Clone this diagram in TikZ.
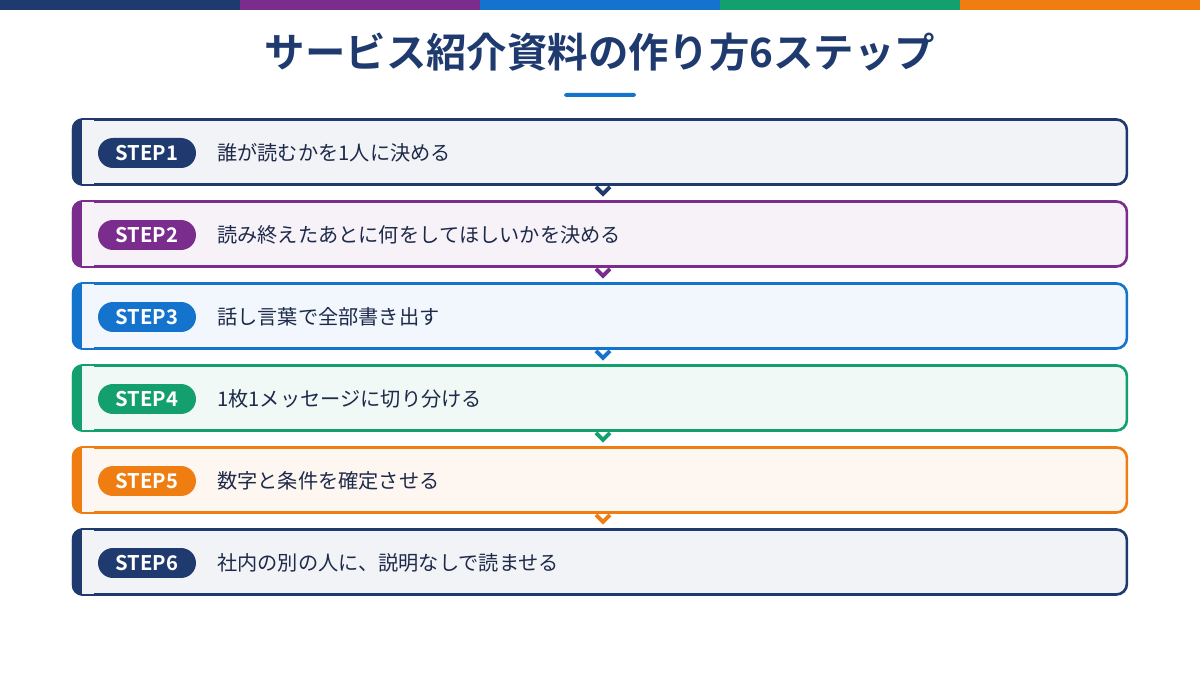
\documentclass[tikz,border=0pt]{standalone}
\usepackage{fontspec}
\setmainfont{Noto Sans CJK JP}
\newfontfamily\jpbold{Noto Sans CJK JP Bold}
\usetikzlibrary{positioning, calc}
\definecolor{cnavy}{HTML}{1E3A6E}
\definecolor{cpurple}{HTML}{7B2D8E}
\definecolor{cblue}{HTML}{1473CC}
\definecolor{cgreen}{HTML}{14A06E}
\definecolor{corange}{HTML}{F07D12}
\definecolor{ctext}{HTML}{1E2A4A}
\tikzset{
    stepbox/.style={
        rectangle, draw=#1, line width=1.5pt, rounded corners=6pt,
        minimum width=21.08cm, minimum height=1.3cm,
        fill=#1!6, inner sep=0pt
    },
    pill/.style={
        rectangle, rounded corners=0.3cm, fill=#1,
        minimum width=1.96cm, minimum height=0.6cm, inner sep=0pt,
        text=white, font=\jpbold\fontsize{11.5}{13}\selectfont
    },
    steptext/.style={
        anchor=west, text=ctext, inner sep=0pt,
        font=\fontsize{11.5}{13}\selectfont
    },
    chevron/.style={draw=#1, line width=2.2pt}
}
\begin{document}
\begin{tikzpicture}[x=0.02cm, y=-0.02cm]
\useasboundingbox (0,0) rectangle (1200,675);

% Top colour bar
\fill[cnavy]   (0,0) rectangle (240,10);
\fill[cpurple] (240,0) rectangle (480,10);
\fill[cblue]   (480,0) rectangle (720,10);
\fill[cgreen]  (720,0) rectangle (960,10);
\fill[corange] (960,0) rectangle (1200,10);

% Title
\node[text=cnavy, font=\jpbold\fontsize{23}{27}\selectfont] (title) at (600,52) {サービス紹介資料の作り方6ステップ};
\fill[cblue, rounded corners=1pt] (564,93) rectangle (636,97);

% Steps
\foreach \i/\col/\txt in {
    1/cnavy/誰が読むかを1人に決める,
    2/cpurple/読み終えたあとに何をしてほしいかを決める,
    3/cblue/話し言葉で全部書き出す,
    4/cgreen/1枚1メッセージに切り分ける,
    5/corange/数字と条件を確定させる,
    6/cnavy/社内の別の人に、説明なしで読ませる} {
    \node[stepbox=\col] (s\i) at (600,{152+82*(\i-1)}) {};
    \fill[\col, rounded corners=6pt] (s\i.north west) rectangle ([xshift=0.4cm]s\i.south west);
    \fill[\col!6] ([xshift=0.2cm,yshift=-0.75pt]s\i.north west) rectangle ([xshift=0.45cm,yshift=0.75pt]s\i.south west);
    \node[pill=\col] (p\i) at (147,{153+82*(\i-1)}) {STEP\i};
    \node[steptext] (t\i) at (217,{153+82*(\i-1)}) {\txt};
}

% Chevrons between steps
\foreach \i/\col in {1/cnavy, 2/cpurple, 3/cblue, 4/cgreen, 5/corange} {
    \coordinate (c\i) at ([xshift=0.06cm]s\i.south);
    \draw[chevron=\col] ($(c\i)+(-7,1)$) -- ($(c\i)+(0,8)$) -- ($(c\i)+(7,1)$);
}

\end{tikzpicture}
\end{document}
